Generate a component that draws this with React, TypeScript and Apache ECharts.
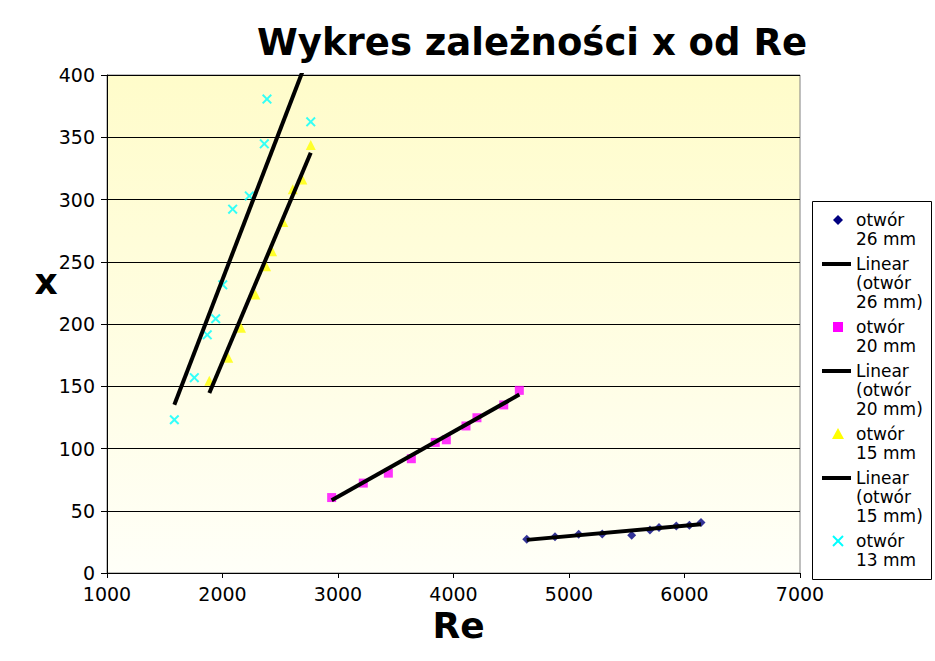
import React, { useEffect, useRef } from "react";
import * as echarts from "echarts";

const titleText = "Wykres zależności x od Re";
const xAxisTitle = "Re";
const yAxisTitle = "x";

const re26 = [4634, 4879, 5084, 5288, 5543, 5701, 5779, 5929, 6042, 6143];
const x26 = [27.1, 29.2, 31.1, 31.4, 30.3, 34.6, 36.5, 37.8, 38.4, 40.5];

const re20 = [2945, 3219, 3436, 3635, 3842, 3938, 4108, 4203, 4435, 4570];
const x20 = [60.6, 72.2, 80.2, 91.8, 104.9, 107.0, 118.1, 124.7, 135.0, 146.7];

const re15 = [1886, 2050, 2160, 2284, 2377, 2429, 2526, 2608, 2691, 2764];
const x15 = [154.5, 172.8, 196.9, 223.7, 246.3, 258.4, 281.9, 308.3, 316.1, 343.7];

const re13 = [1583, 1756, 1868, 1941, 2002, 2088, 2232, 2362, 2385, 2764];
const x13 = [123.1, 156.9, 191.3, 204.2, 231.5, 292.2, 302.9, 344.7, 380.7, 362.4];

// trend line end points
const trend26Re = [4634, 6143];
const trend26X = [26.6, 39.2];
const trend20Re = [2945, 4570];
const trend20X = [58.5, 143.3];
const trend15Re = [1886, 2764];
const trend15X = [144.6, 337.5];
const trend13Re = [1583, 2764];
const trend13X = [135.2, 420];

const seriesNames = ["otwór 26 mm", "otwór 20 mm", "otwór 15 mm", "otwór 13 mm"];
const legendLabels = [
  "otwór\n26 mm",
  "Linear\n(otwór\n26 mm)",
  "otwór\n20 mm",
  "Linear\n(otwór\n20 mm)",
  "otwór\n15 mm",
  "Linear\n(otwór\n15 mm)",
  "otwór\n13 mm",
];
const legendKinds = ["diamond", "line", "square", "line", "triangle", "line", "cross"];

const FONT = "DejaVu Sans";
const CROSS = "path://M0,1.4L1.4,0L5,3.6L8.6,0L10,1.4L6.4,5L10,8.6L8.6,10L5,6.4L1.4,10L0,8.6L3.6,5Z";

const zip = (a: number[], b: number[]) => a.map((v, i) => [v, b[i]]);

function buildGraphics() {
  const els: any[] = [];
  els.push({
    type: "text",
    x: 46,
    y: 281,
    style: {
      text: yAxisTitle,
      fill: "#000",
      font: `bold 36px '${FONT}'`,
      align: "center",
      verticalAlign: "middle",
    },
  });
  els.push({
    type: "rect",
    shape: { x: 812.5, y: 201.5, width: 119, height: 378 },
    style: { fill: "#fff", stroke: "#000", lineWidth: 1 },
    z: 10,
  });
  let cy = 220;
  const lh = 19;
  legendLabels.forEach((lab, i) => {
    const kind = legendKinds[i];
    const sx = 838;
    if (kind === "diamond") {
      els.push({ type: "polygon", shape: { points: [[sx, cy - 5], [sx + 5, cy], [sx, cy + 5], [sx - 5, cy]] }, style: { fill: "#000080" }, z: 11 });
    } else if (kind === "square") {
      els.push({ type: "rect", shape: { x: sx - 5, y: cy - 5, width: 10, height: 10 }, style: { fill: "#ff00ff" }, z: 11 });
    } else if (kind === "triangle") {
      els.push({ type: "polygon", shape: { points: [[sx, cy - 6], [sx + 6, cy + 5], [sx - 6, cy + 5]] }, style: { fill: "#ffff00" }, z: 11 });
    } else if (kind === "cross") {
      els.push({ type: "line", shape: { x1: sx - 5, y1: cy - 5, x2: sx + 5, y2: cy + 5 }, style: { stroke: "#00ffff", lineWidth: 2 }, z: 11 });
      els.push({ type: "line", shape: { x1: sx + 5, y1: cy - 5, x2: sx - 5, y2: cy + 5 }, style: { stroke: "#00ffff", lineWidth: 2 }, z: 11 });
    } else {
      els.push({ type: "line", shape: { x1: 822, y1: cy, x2: 851, y2: cy }, style: { stroke: "#000", lineWidth: 4 }, z: 11 });
    }
    els.push({
      type: "text",
      x: 856,
      y: cy - lh / 2,
      style: {
        text: lab,
        fill: "#000",
        font: `17px '${FONT}'`,
        lineHeight: lh,
        verticalAlign: "top",
        align: "left",
      },
      z: 11,
    });
    const lines = lab.split("\n").length;
    cy += lines * lh + 6;
  });
  return els;
}

export default function App() {
  const ref = useRef<HTMLDivElement>(null);
  useEffect(() => {
    if (!ref.current) return;
    const chart = echarts.init(ref.current, null, { renderer: "svg" });
    const trendLine = (name: string, re: number[], xv: number[]) => ({
      name,
      type: "line",
      data: zip(re, xv),
      showSymbol: false,
      symbol: "none",
      clip: true,
      lineStyle: { color: "#000", width: 4 },
      z: 5,
    });
    chart.setOption({
      animation: false,
      backgroundColor: "#fff",
      textStyle: { fontFamily: FONT },
      title: {
        text: titleText,
        left: 257,
        top: 24,
        padding: 0,
        textStyle: { fontFamily: FONT, fontWeight: "bold", fontSize: 37, color: "#000" },
      },
      grid: {
        left: 107,
        top: 75,
        right: 135,
        bottom: 88,
        show: true,
        borderColor: "#808080",
        borderWidth: 1,
        backgroundColor: new echarts.graphic.LinearGradient(0, 0, 0, 1, [
          { offset: 0, color: "#fffcca" },
          { offset: 1, color: "#fffff8" },
        ]),
      },
      xAxis: {
        type: "value",
        min: 1000,
        max: 7000,
        interval: 1000,
        name: xAxisTitle,
        nameLocation: "middle",
        nameGap: 34,
        nameTextStyle: { fontFamily: FONT, fontWeight: "bold", fontSize: 36, color: "#000", padding: [0, 0, 0, 10] },
        axisLine: { show: true, lineStyle: { color: "#000", width: 1 } },
        axisTick: { show: true, length: 5, lineStyle: { color: "#000" } },
        axisLabel: { fontFamily: FONT, fontSize: 19, color: "#000", margin: 11, formatter: (v: number) => String(v) },
        splitLine: { show: false },
      },
      yAxis: {
        type: "value",
        min: 0,
        max: 400,
        interval: 50,
        axisLine: { show: true, lineStyle: { color: "#000", width: 1 } },
        axisTick: { show: true, length: 6, lineStyle: { color: "#000" } },
        axisLabel: { fontFamily: FONT, fontSize: 19, color: "#000", margin: 12, formatter: (v: number) => String(v) },
        splitLine: { show: true, lineStyle: { color: "#000", width: 1 } },
      },
      graphic: buildGraphics(),
      series: [
        {
          name: seriesNames[0],
          type: "scatter",
          data: zip(re26, x26),
          symbol: "diamond",
          symbolSize: 9,
          itemStyle: { color: "#000080" },
          z: 3,
        },
        {
          name: seriesNames[1],
          type: "scatter",
          data: zip(re20, x20),
          symbol: "rect",
          symbolSize: 9,
          itemStyle: { color: "#ff00ff" },
          z: 3,
        },
        {
          name: seriesNames[2],
          type: "scatter",
          data: zip(re15, x15),
          symbol: "triangle",
          symbolSize: 10,
          itemStyle: { color: "#ffff00" },
          z: 3,
        },
        {
          name: seriesNames[3],
          type: "scatter",
          data: zip(re13, x13),
          symbol: CROSS,
          symbolSize: 10,
          itemStyle: { color: "#00ffff" },
          z: 3,
        },
        trendLine("Linear (otwór 26 mm)", trend26Re, trend26X),
        trendLine("Linear (otwór 20 mm)", trend20Re, trend20X),
        trendLine("Linear (otwór 15 mm)", trend15Re, trend15X),
        trendLine("Linear (otwór 13 mm)", trend13Re, trend13X),
      ],
    });
    return () => chart.dispose();
  }, []);
  return (
    <div
      ref={ref}
      style={{ position: "fixed", left: 0, top: 0, width: 935, height: 661 }}
    />
  );
}
